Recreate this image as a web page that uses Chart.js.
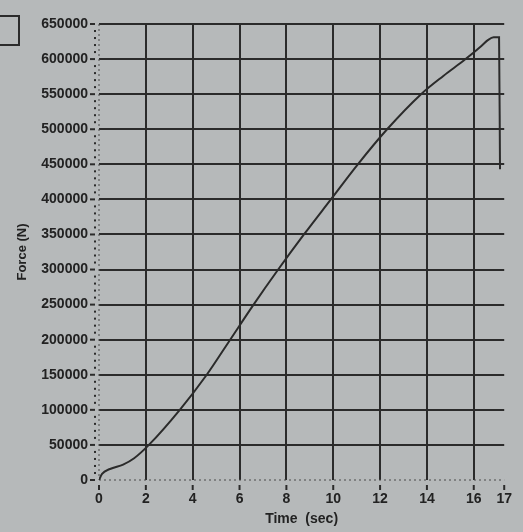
<!DOCTYPE html>
<html>
<head>
<meta charset="utf-8">
<script src="https://cdn.jsdelivr.net/npm/chart.js@4.4.1/dist/chart.umd.min.js"></script>
<style>
    html, body { margin: 0; padding: 0; background: #b6b9ba; }
    #wrap { position: relative; width: 523px; height: 532px; }
    #box { position: absolute; left: -2px; top: 15px; width: 18px; height: 27px; border: 2px solid #2b2b2b; }
</style>
</head>
<body>
<div id="wrap">
    <div id="box"></div>
    <canvas id="myChart" width="523" height="532"></canvas>
</div>
<script>
// данные кривой
const timeSec = [0, 0.13, 0.47, 1.03, 1.5, 2.13, 3.45, 4.6, 5.6, 6.6, 7.65, 8.75, 9.9, 11.05, 12.3, 13.75, 14.7, 15.65, 16.3, 16.6, 16.85, 17.08, 17.12];
const forceN = [0, 8600, 15700, 22000, 31000, 50000, 100000, 150000, 200000, 250000, 300000, 350000, 400000, 450000, 500000, 550000, 576000, 600000, 618000, 627000, 631000, 631000, 443000];

const xTicks = [0, 2, 4, 6, 8, 10, 12, 14, 16];
const xEnd = 17.3;       // край оси, подписан как "17"
const xEndLabel = '17';
const yStep = 50000;
const yMax = 650000;
const yMinorStep = 10000;

const ink = '#2b2b2b';
const font = { family: 'Liberation Sans', size: 14, weight: 'bold' };

// засечки, точки и пунктирные оси
const tickMarks = {
    id: 'tickMarks',
    beforeDatasetsDraw(chart) {
        const c = chart.ctx;
        const xs = chart.scales.x;
        const ys = chart.scales.y;
        c.save();
        c.strokeStyle = '#4a4a4a';
        c.lineWidth = 1;
        c.setLineDash([2, 3]);
        c.beginPath();
        c.moveTo(xs.left, ys.bottom);
        c.lineTo(xs.right, ys.bottom);
        c.moveTo(xs.left, ys.top);
        c.lineTo(xs.left, ys.bottom);
        c.stroke();
        c.restore();
    },
    afterDraw(chart) {
        const c = chart.ctx;
        const xs = chart.scales.x;
        const ys = chart.scales.y;
        c.save();
        c.strokeStyle = ink;
        c.fillStyle = ink;
        c.lineWidth = 2;
        xs.ticks.forEach(function (t) {
            const px = xs.getPixelForValue(t.value);
            c.beginPath();
            c.moveTo(px, ys.bottom + 5);
            c.lineTo(px, ys.bottom + 10);
            c.stroke();
        });
        ys.ticks.forEach(function (t) {
            const py = ys.getPixelForValue(t.value);
            c.beginPath();
            c.moveTo(xs.left - 9, py);
            c.lineTo(xs.left - 4, py);
            c.stroke();
        });
        for (let v = 0; v <= yMax; v += yMinorStep) {
            if (v % yStep === 0) continue;
            const py = ys.getPixelForValue(v);
            c.fillRect(xs.left - 5, py - 1, 2, 2);
        }
        c.restore();
    }
};

const points = timeSec.map(function (t, i) { return { x: t, y: forceN[i] }; });

const ctx = document.getElementById('myChart').getContext('2d');
const myChart = new Chart(ctx, {
    type: 'line',
    data: {
        datasets: [{
            data: points,
            borderColor: ink,
            borderWidth: 2,
            pointRadius: 0,
            cubicInterpolationMode: 'monotone',
            fill: false
        }]
    },
    options: {
        responsive: false,
        animation: false,
        layout: { padding: { left: 0, right: 15, top: 24, bottom: 0 } },
        plugins: { legend: { display: false }, tooltip: { enabled: false } },
        scales: {
            x: {
                type: 'linear',
                min: 0,
                max: xEnd,
                afterBuildTicks: function (scale) {
                    scale.ticks = xTicks.concat([xEnd]).map(function (v) { return { value: v }; });
                },
                afterFit: function (scale) { scale.height = 52; },
                ticks: {
                    color: '#222',
                    font: font,
                    padding: 11,
                    maxRotation: 0,
                    autoSkip: false,
                    callback: function (v) { return v === xEnd ? xEndLabel : v; }
                },
                grid: {
                    drawTicks: false,
                    lineWidth: 2,
                    color: function (c) {
                        if (!c.tick || c.tick.value === 0 || c.tick.value > 16) return 'transparent';
                        return ink;
                    }
                },
                border: { display: false },
                title: { display: true, text: 'Time  (sec)', color: '#222', font: { family: 'Liberation Sans', size: 14, weight: 'bold' }, padding: { top: 0, bottom: 4 } }
            },
            y: {
                min: 0,
                max: yMax,
                afterFit: function (scale) { scale.width = 99; },
                ticks: {
                    stepSize: yStep,
                    color: '#222',
                    font: font,
                    padding: 11,
                    callback: function (v) { return v; }
                },
                grid: {
                    drawTicks: false,
                    lineWidth: 2,
                    color: function (c) {
                        if (!c.tick || c.tick.value === 0) return 'transparent';
                        return ink;
                    }
                },
                border: { display: false },
                title: { display: true, text: 'Force (N)', color: '#222', font: { family: 'Liberation Sans', size: 13, weight: 'bold' }, padding: { top: 15, bottom: 6 } }
            }
        }
    },
    plugins: [tickMarks]
});
</script>
</body>
</html>
